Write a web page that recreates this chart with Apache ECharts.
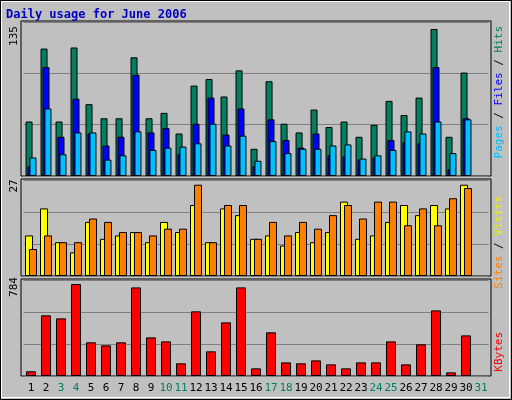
<!DOCTYPE html>
<html><head><meta charset="utf-8">
<script src="https://cdn.jsdelivr.net/npm/echarts@6/dist/echarts.min.js"></script>
<style>html,body{margin:0;padding:0;background:#c0c0c0}#c{width:512px;height:400px}</style>
</head><body><div id="c"></div>
<script>
const days = ['1','2','3','4','5','6','7','8','9','10','11','12','13','14','15','16','17','18','19','20','21','22','23','24','25','26','27','28','29','30','31'];
const weekend = ['3','4','10','11','17','18','24','25','31'];
const hits  = [50,117,50,118,66,53,53,109,53,58,39,83,89,73,97,25,87,48,40,61,45,50,36,47,69,56,72,135,36,95,0];
const files = [9,100,36,71,39,28,36,93,40,44,20,48,72,38,62,9,52,33,26,39,19,18,15,17,33,31,30,100,6,53,0];
const pages = [17,62,20,40,40,15,19,41,24,26,27,30,48,28,37,14,32,21,25,25,28,29,16,19,24,41,39,50,21,52,0];
const visits = [12,20,10,7,16,11,12,13,10,16,13,21,10,20,18,11,12,9,13,10,13,22,11,12,16,21,18,21,20,27,0];
const sites  = [8,12,10,10,17,16,13,13,12,14,14,27,10,21,21,11,16,12,16,14,18,21,17,22,22,15,20,15,23,26,0];
const kbytes = [40,517,491,784,287,261,287,755,329,295,108,551,210,457,755,65,372,116,108,133,99,65,116,116,295,99,270,559,31,346,0];
const maxLabels = ['135','27','784'];

const chart = echarts.init(document.getElementById('c'));
const panels = [{top:22,h:154},{top:180,h:96},{top:280,h:96}];
const maxes = [141.4,28.4,818];
const mono = 'DejaVu Sans Mono';
const grids = panels.map(p=>({left:23.5,right:23.5,top:p.top,height:p.h}));
const xAxes = panels.map((p,i)=>({type:'category',gridIndex:i,data:days,
  axisLine:{show:false},axisTick:{show:false},
  axisLabel:{show:i===2,interval:0,margin:7,fontFamily:mono,fontSize:11,
    formatter:v=>weekend.includes(v)?'{w|'+v+'}':'{d|'+v+'}',
    rich:{w:{color:'#008060',fontFamily:mono,fontSize:11},d:{color:'#000',fontFamily:mono,fontSize:11}}}}));
const yAxes = maxes.map((m,i)=>({type:'value',gridIndex:i,min:0,max:m,interval:m/3,
  axisLine:{show:false},axisTick:{show:false},axisLabel:{show:false},
  splitLine:{show:true,lineStyle:{color:'#808080',width:1}}}));
const bs = {borderColor:'#000',borderWidth:1};
function bar(name,data,color,gi,w,gap){
  return {name,type:'bar',xAxisIndex:gi,yAxisIndex:gi,barWidth:w,barGap:gap,
    data:data.map(v=>v===0?{value:v,itemStyle:{borderWidth:0}}:v),
    itemStyle:Object.assign({color},bs),animation:false};
}
const series = [
  bar('Hits',hits,'#008060',0,7,'-72%'),
  bar('Files',files,'#0000ff',0,7,'-72%'),
  bar('Pages',pages,'#00c0ff',0,7,'-72%'),
  bar('Visits',visits,'#ffff00',1,8,'-50%'),
  bar('Sites',sites,'#ff8000',1,8,'-50%'),
  bar('KBytes',kbytes,'#ff0000',2,10,'0%')
];
const frames = panels.map(p=>({type:'rect',z:-1,shape:{x:21,y:p.top-1,width:470,height:p.h+1},style:{fill:'#c0c0c0',stroke:'#000',lineWidth:1}}));
function vtext(x,y,parts){
  return {type:'text',x,y,rotation:Math.PI/2,style:{text:parts.map(p=>'{'+p[1]+'|'+p[0]+'}').join(''),
    rich:{h:{fill:'#008060',fontFamily:mono,fontSize:11},f:{fill:'#0000ff',fontFamily:mono,fontSize:11},
      p:{fill:'#00c0ff',fontFamily:mono,fontSize:11},v:{fill:'#f0f000',fontFamily:mono,fontSize:11},
      s:{fill:'#ff8000',fontFamily:mono,fontSize:11},k:{fill:'#ff0000',fontFamily:mono,fontSize:11},
      b:{fill:'#000',fontFamily:mono,fontSize:11}},align:'right',verticalAlign:'top'}};
}
function maxText(y,t){return {type:'text',x:9,y,rotation:Math.PI/2,style:{text:t,fill:'#000',fontFamily:mono,fontSize:11,align:'center',verticalAlign:'top'}};}
const graphic = [
  {type:'rect',z:-2,shape:{x:0.5,y:0.5,width:511,height:399},style:{fill:'#c0c0c0',stroke:'#000',lineWidth:1}},
  {type:'rect',z:-2,shape:{x:1.5,y:1.5,width:508,height:396},style:{fill:'none',stroke:'#fff',lineWidth:1}},
  ...frames,
  {type:'text',x:6,y:9,style:{text:'Daily usage for June 2006',fill:'#0000c0',fontFamily:mono,fontSize:12,fontWeight:'bold'}},
  maxText(36,maxLabels[0]),maxText(186,maxLabels[1]),maxText(287,maxLabels[2]),
  vtext(494,26,[['Pages','p'],[' / ','b'],['Files','f'],[' / ','b'],['Hits','h']]),
  vtext(494,196,[['Sites','s'],[' / ','b'],['Visits','v']]),
  vtext(494,332,[['KBytes','k']])
];
chart.setOption({animation:false,grid:grids,xAxis:xAxes,yAxis:yAxes,series,graphic});
</script></body></html>
